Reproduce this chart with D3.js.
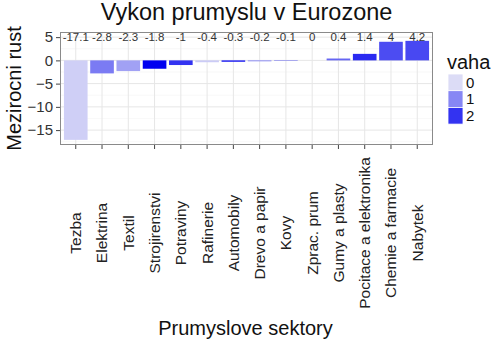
<!DOCTYPE html>
<html><head><meta charset="utf-8">
<script src="https://cdn.jsdelivr.net/npm/d3@7"></script>
<style>body{margin:0;background:#fff}svg{display:block}text{font-family:"Liberation Sans",Arial,sans-serif}</style>
</head><body>
<svg id="c" width="500" height="348"></svg>
<script>
const categories = ["Tezba","Elektrina","Textil","Strojirenstvi","Potraviny","Rafinerie","Automobily","Drevo a papir","Kovy","Zprac. prum","Gumy a plasty","Pocitace a elektronika","Chemie a farmacie","Nabytek"];
const growth = [-17.1,-2.8,-2.3,-1.8,-1,-0.4,-0.3,-0.2,-0.1,0,0.4,1.4,4,4.2];
const weights = [0.15,1.15,0.7,2.6,2.0,0.2,2.3,1.0,1.5,1.0,1.4,2.1,1.7,1.75];
const yTicks = [-15,-10,-5,0,5];
const yMinor = [-17.5,-12.5,-7.5,-2.5,2.5];
const legendBreaks = [0,1,2];
const title = "Vykon prumyslu v Eurozone";
const xTitle = "Prumyslove sektory";
const yTitle = "Mezirocni rust";
const legendTitle = "vaha";
const labelY = 5;

const svg = d3.select("#c");
const L = 60, R = 433, T = 32, B = 145;
const lo = d3.min(growth), hi = labelY;
const ex = (hi - lo) * 0.05;
const y = d3.scaleLinear().domain([lo - ex, hi + ex]).range([B, T]);
const x = d3.scaleBand().domain(categories).range([L, R]).paddingInner(0.1).paddingOuter(0.15);
const maxW = d3.max(weights);
const fill = d3.scaleLinear().domain([0, maxW]).range(["#dcdcf6", "#0000f0"]).interpolate(d3.interpolateRgb);

svg.append("rect").attr("x", L).attr("y", T).attr("width", R - L).attr("height", B - T).attr("fill", "#fff");
const clip = y.domain();
svg.append("g").selectAll("line").data(yMinor.filter(v => v > clip[0] && v < clip[1])).join("line")
  .attr("x1", L).attr("x2", R).attr("y1", d => y(d)).attr("y2", d => y(d))
  .attr("stroke", "#f4f4f4").attr("stroke-width", 0.6);
svg.append("g").selectAll("line").data(yTicks).join("line")
  .attr("x1", L).attr("x2", R).attr("y1", d => y(d)).attr("y2", d => y(d))
  .attr("stroke", "#e6e6e6").attr("stroke-width", 1);
svg.append("g").selectAll("line").data(categories).join("line")
  .attr("x1", d => x(d) + x.bandwidth() / 2).attr("x2", d => x(d) + x.bandwidth() / 2)
  .attr("y1", T).attr("y2", B)
  .attr("stroke", "#e6e6e6").attr("stroke-width", 1);

svg.append("g").selectAll("rect").data(categories).join("rect")
  .attr("x", d => x(d))
  .attr("width", x.bandwidth())
  .attr("y", (d, i) => y(Math.max(0, growth[i])))
  .attr("height", (d, i) => Math.abs(y(growth[i]) - y(0)))
  .attr("fill", (d, i) => fill(weights[i]));

svg.append("g").selectAll("text").data(categories).join("text")
  .attr("x", d => x(d) + x.bandwidth() / 2)
  .attr("y", y(labelY))
  .attr("dy", "0.35em")
  .attr("text-anchor", "middle")
  .attr("font-size", 11.5)
  .attr("fill", "#333")
  .text((d, i) => growth[i]);

svg.append("rect").attr("x", L + 0.5).attr("y", T + 0.5).attr("width", R - L - 1).attr("height", B - T - 1)
  .attr("fill", "none").attr("stroke", "#8a8a8a").attr("stroke-width", 1);

const yAxis = svg.append("g").attr("transform", `translate(${L},0)`)
  .call(d3.axisLeft(y).tickValues(yTicks).tickSize(4).tickPadding(3).tickFormat(d3.format("d")));
yAxis.select(".domain").remove();
yAxis.selectAll("line").attr("stroke", "#444");
yAxis.selectAll("text").attr("font-size", 15).attr("fill", "#333");

const xAxis = svg.append("g").attr("transform", `translate(0,${B})`)
  .call(d3.axisBottom(x).tickSize(4).tickFormat(""));
xAxis.select(".domain").remove();
xAxis.selectAll("line").attr("stroke", "#444");
svg.append("g").selectAll("text").data(categories).join("text")
  .attr("transform", d => `translate(${x(d) + x.bandwidth() / 2},233) rotate(-90)`)
  .attr("text-anchor", "middle")
  .attr("dy", "0.35em")
  .attr("font-size", 15.5)
  .attr("fill", "#222")
  .text(d => d);

svg.append("text").attr("x", 246.5).attr("y", 20).attr("text-anchor", "middle")
  .attr("font-size", 23.5).attr("fill", "#111").text(title);
svg.append("text").attr("x", 245.5).attr("y", 335).attr("text-anchor", "middle")
  .attr("font-size", 20).attr("fill", "#111").text(xTitle);
svg.append("text").attr("transform", `translate(21,${(T + B) / 2}) rotate(-90)`).attr("text-anchor", "middle")
  .attr("font-size", 20).attr("fill", "#111").text(yTitle);

const lg = svg.append("g");
lg.append("text").attr("x", 447).attr("y", 69).attr("font-size", 20).attr("fill", "#111").text(legendTitle);
const keyH = 16.7;
lg.selectAll("rect").data(legendBreaks).join("rect")
  .attr("x", 448).attr("y", (d, i) => 74 + i * keyH).attr("width", 15).attr("height", keyH)
  .attr("fill", d => fill(d)).attr("stroke", "#fff").attr("stroke-width", 0.8);
lg.selectAll("text.lab").data(legendBreaks).join("text").attr("class", "lab")
  .attr("x", 466).attr("y", (d, i) => 74 + i * keyH + keyH / 2).attr("dy", "0.35em")
  .attr("font-size", 15).attr("fill", "#111").text(d => d);
</script>
</body></html>
